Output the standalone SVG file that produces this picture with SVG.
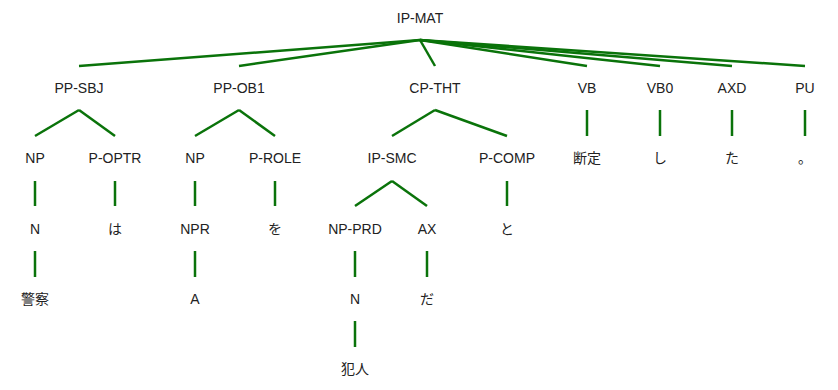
<svg xmlns="http://www.w3.org/2000/svg" width="838" height="390" viewBox="0 0 838 390">
<style>
text{font-family:"Liberation Sans","Noto Sans CJK JP",sans-serif;font-size:14px;fill:#222;text-anchor:middle}
#edges line{stroke:#0a730a;stroke-width:2.5;stroke-linecap:butt}
</style>
<rect width="838" height="390" fill="#fff"/>
<g id="edges">
<line x1="420" y1="40" x2="79" y2="66"/>
<line x1="420" y1="40" x2="239" y2="66"/>
<line x1="420" y1="40" x2="435" y2="66"/>
<line x1="420" y1="40" x2="587" y2="66"/>
<line x1="420" y1="40" x2="660" y2="66"/>
<line x1="420" y1="40" x2="732" y2="66"/>
<line x1="420" y1="40" x2="805" y2="66"/>
<line x1="79" y1="110" x2="35" y2="136"/>
<line x1="79" y1="110" x2="115" y2="136"/>
<line x1="239" y1="110" x2="195" y2="136"/>
<line x1="239" y1="110" x2="275" y2="136"/>
<line x1="435" y1="110" x2="392" y2="136"/>
<line x1="435" y1="110" x2="507" y2="136"/>
<line x1="587" y1="110" x2="587" y2="136"/>
<line x1="660" y1="110" x2="660" y2="136"/>
<line x1="732" y1="110" x2="732" y2="136"/>
<line x1="805" y1="110" x2="805" y2="136"/>
<line x1="35" y1="181" x2="35" y2="206"/>
<line x1="115" y1="181" x2="115" y2="206"/>
<line x1="195" y1="181" x2="195" y2="206"/>
<line x1="275" y1="181" x2="275" y2="206"/>
<line x1="392" y1="181" x2="355" y2="206"/>
<line x1="392" y1="181" x2="427" y2="206"/>
<line x1="507" y1="181" x2="507" y2="206"/>
<line x1="35" y1="251" x2="35" y2="277"/>
<line x1="195" y1="251" x2="195" y2="277"/>
<line x1="355" y1="251" x2="355" y2="277"/>
<line x1="427" y1="251" x2="427" y2="277"/>
<line x1="355" y1="321" x2="355" y2="347"/>
</g>
<g id="n-ipmat"><text x="420" y="23">IP-MAT</text></g>
<g id="n-ppsbj"><text x="79" y="93">PP-SBJ</text></g>
<g id="n-ppob1"><text x="239" y="93">PP-OB1</text></g>
<g id="n-cptht"><text x="435" y="93">CP-THT</text></g>
<g id="n-vb"><text x="587" y="93">VB</text></g>
<g id="n-vb0"><text x="660" y="93">VB0</text></g>
<g id="n-axd"><text x="732" y="93">AXD</text></g>
<g id="n-pu"><text x="805" y="93">PU</text></g>
<g id="n-np1"><text x="35" y="163">NP</text></g>
<g id="n-poptr"><text x="115" y="163">P-OPTR</text></g>
<g id="n-np2"><text x="195" y="163">NP</text></g>
<g id="n-prole"><text x="275" y="163">P-ROLE</text></g>
<g id="n-ipsmc"><text x="392" y="163">IP-SMC</text></g>
<g id="n-pcomp"><text x="507" y="163">P-COMP</text></g>
<g id="n-dantei"><text x="587" y="163">断定</text></g>
<g id="n-shi"><text x="660" y="163">し</text></g>
<g id="n-ta"><text x="732" y="163">た</text></g>
<g id="n-maru"><text x="805" y="163">。</text></g>
<g id="n-n1"><text x="35" y="234">N</text></g>
<g id="n-wa"><text x="115" y="234">は</text></g>
<g id="n-npr"><text x="195" y="234">NPR</text></g>
<g id="n-wo"><text x="275" y="234">を</text></g>
<g id="n-npprd"><text x="355" y="234">NP-PRD</text></g>
<g id="n-ax"><text x="427" y="234">AX</text></g>
<g id="n-to"><text x="507" y="234">と</text></g>
<g id="n-keisatsu"><text x="35" y="304">警察</text></g>
<g id="n-a"><text x="195" y="304">A</text></g>
<g id="n-n2"><text x="355" y="304">N</text></g>
<g id="n-da"><text x="427" y="304">だ</text></g>
<g id="n-hannin"><text x="355" y="374">犯人</text></g>
</svg>
